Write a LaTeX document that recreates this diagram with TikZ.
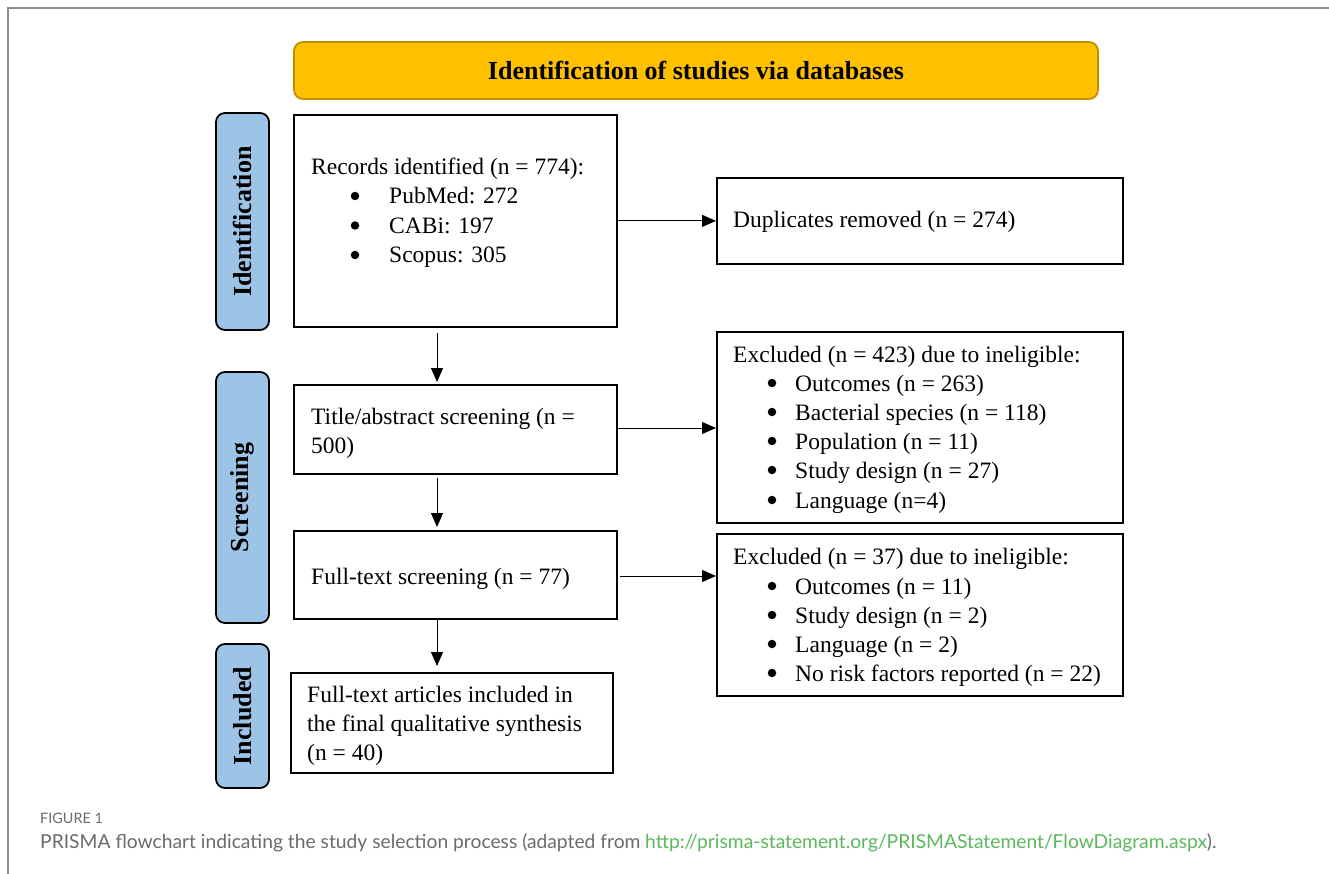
\documentclass[tikz,border=0pt]{standalone}
\usepackage{fontspec}
\setmainfont{Liberation Serif}
\newfontfamily\capfont{Lato}
\usetikzlibrary{arrows.meta}
\definecolor{hdrfill}{HTML}{FFC000}
\definecolor{hdrline}{HTML}{BF9000}
\definecolor{sideblue}{HTML}{9DC3E6}
\definecolor{framegray}{HTML}{8C8C8C}
\definecolor{capgray}{HTML}{6B6B6B}
\definecolor{linkgreen}{HTML}{5CB85C}
\begin{document}
\begin{tikzpicture}[x=1pt,y=-1pt,
  box/.style={draw=black, line width=1.8pt, inner sep=0pt, anchor=north west, fill=white},
  side/.style={draw=black, line width=1.8pt, fill=sideblue, rounded corners=9pt, rotate=90,
    minimum height=53pt, inner sep=0pt, font=\fontsize{26}{30}\selectfont\bfseries},
  txt/.style={anchor=base west, inner sep=0pt, font=\fontsize{23.5}{29}\selectfont},
  bul/.style={circle, fill=black, inner sep=0pt, minimum size=8.5pt, yshift=8pt},
  arr/.style={-{Triangle[length=14pt,width=12pt]}, line width=1pt},
]
\useasboundingbox (0,0) rectangle (1329,874);
\fill[white] (0,0) rectangle (1329,874);
\draw[framegray, line width=2pt] (8,874) -- (8,8) -- (1329,8);

% header
\node[draw=hdrline, line width=1.8pt, fill=hdrfill, rounded corners=9pt, minimum width=804pt,
  minimum height=57pt, inner sep=0pt, font=\fontsize{26}{30}\selectfont\bfseries] (hdr) at (696,70.5)
  {Identification of studies via databases};

% side labels
\node[side, minimum width=217pt] (sidId) at (242.5,221.5) {Identification};
\node[side, minimum width=251pt] (sidSc) at (242.5,497.5) {Screening};
\node[side, minimum width=144pt] (sidIn) at (242.5,716) {Included};

% boxes
\node[box, minimum width=323pt, minimum height=212pt] (b1) at (293,114) {};
\node[box, minimum width=406pt, minimum height=86pt] (dup) at (716,177) {};
\node[box, minimum width=323pt, minimum height=89pt] (b2) at (293,384) {};
\node[box, minimum width=406pt, minimum height=191pt] (ex1) at (716,331) {};
\node[box, minimum width=323pt, minimum height=88pt] (b3) at (293,530) {};
\node[box, minimum width=406pt, minimum height=162pt] (ex2) at (716,533) {};
\node[box, minimum width=322pt, minimum height=100pt] (b4) at (290,672) {};

% texts box1
\node[txt] (t1a) at (311,175) {Records identified (n = 774):};
\node[bul] (t1b) at (355,204) {};
\node[txt] (t1c) at (389,204) {PubMed: 272};
\node[bul] (t1d) at (355,233.5) {};
\node[txt] (t1e) at (389,233.5) {CABi: 197};
\node[bul] (t1f) at (355,263) {};
\node[txt] (t1g) at (389,263) {Scopus: 305};

\node[txt] (tdup) at (733,228) {Duplicates removed (n = 274)};

\node[txt] (t2a) at (311,424) {Title/abstract screening (n =};
\node[txt] (t2b) at (311,453) {500)};

\node[txt] (te1) at (733,362) {Excluded (n = 423) due to ineligible:};
\foreach \yy/\tt [count=\i] in {391/{Outcomes (n = 263)},420/{Bacterial species (n = 118)},449/{Population (n = 11)},478/{Study design (n = 27)},508/{Language (n=4)}}{
  \node[bul] (ea\i) at (772,\yy) {};
  \node[txt] (eb\i) at (795,\yy) {\tt};
}

\node[txt] (t3) at (311,584) {Full-text screening (n = 77)};

\node[txt] (te2) at (733,564) {Excluded (n = 37) due to ineligible:};
\foreach \yy/\tt [count=\i] in {594/{Outcomes (n = 11)},623/{Study design (n = 2)},652/{Language (n = 2)},681/{No risk factors reported (n = 22)}}{
  \node[bul] (fa\i) at (772,\yy) {};
  \node[txt] (fb\i) at (795,\yy) {\tt};
}

\node[txt] (t4a) at (307,702) {Full-text articles included in};
\node[txt] (t4b) at (307,731) {the final qualitative synthesis};
\node[txt] (t4c) at (307,760) {(n = 40)};

% arrows
\draw[arr] (b1.east) -- (dup.west);
\coordinate (h2) at (616,428);
\coordinate (h3) at (620,576);
\draw[arr] (h2) -- (h2 -| ex1.west);
\draw[arr] (h3) -- (h3 -| ex2.west);
\coordinate (d1s) at (437,333);
\coordinate (d1e) at (437,382);
\coordinate (d2s) at (437,478);
\coordinate (d2e) at (437,527);
\coordinate (d3s) at (437,619);
\coordinate (d3e) at (437,666);
\draw[arr] (d1s) -- (d1e);
\draw[arr] (d2s) -- (d2e);
\draw[arr] (d3s) -- (d3e);

% caption
\node[anchor=base west, inner sep=0pt, text=capgray, font=\capfont\fontsize{14.4}{17}\selectfont] (fig) at (40,823) {FIGURE 1};
\node[anchor=base west, inner sep=0pt, text=capgray, font=\capfont\fontsize{19.25}{22}\selectfont] (cap) at (40,848)
  {PRISMA flowchart indicating the study selection process (adapted from \textcolor{linkgreen}{http://prisma-statement.org/PRISMAStatement/FlowDiagram.aspx}).};
\end{tikzpicture}
\end{document}
